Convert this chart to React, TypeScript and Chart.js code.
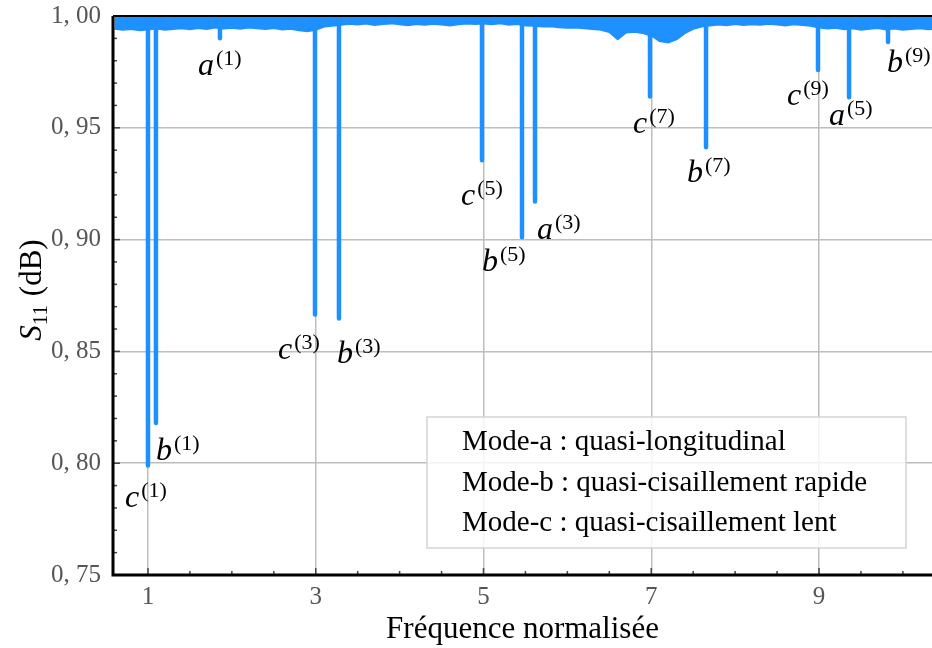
import React, { useEffect, useRef } from 'react';
import { Chart, registerables } from 'chart.js';

Chart.register(...registerables);

const SERIF = '"Liberation Serif", "Times New Roman", serif';
const BLUE = '#1E90FF';

// Background (off-resonance) S11 level, sampled along the normalized frequency
const baseFreq = [
  0.6, 0.7, 0.8, 0.9, 1.0, 1.1, 1.2, 1.3, 1.4, 1.5,
  1.6, 1.7, 1.8, 1.9, 2.0, 2.1, 2.2, 2.3, 2.4, 2.5, 2.6, 2.7, 2.8, 2.9,
  3.0, 3.1, 3.2,
  3.3, 3.4, 3.5, 3.6, 3.7, 3.8, 3.9, 4.0, 4.1, 4.2, 4.3, 4.4, 4.5, 4.6, 4.7, 4.8, 4.9,
  5.0, 5.1, 5.2, 5.3, 5.4, 5.5,
  5.6, 5.7, 5.8, 5.9, 6.0, 6.1, 6.2, 6.3, 6.4,
  6.5, 6.6, 6.7, 6.8, 6.9, 7.0, 7.1, 7.2, 7.3, 7.4, 7.5, 7.6,
  7.7, 7.8, 7.9, 8.0, 8.1, 8.2, 8.3, 8.4, 8.5, 8.6, 8.7, 8.8, 8.9,
  9.0, 9.1, 9.2, 9.3, 9.4, 9.5, 9.6, 9.7, 9.8, 9.9, 10.0, 10.1, 10.2, 10.3, 10.4,
];
const baseS11 = [
  0.9943, 0.9938, 0.9942, 0.9936, 0.9940, 0.9944, 0.9939, 0.9942, 0.9945, 0.9941,
  0.9946, 0.9942, 0.9948, 0.9944, 0.9947, 0.9943, 0.9949, 0.9945, 0.9942, 0.9946, 0.9940, 0.9943, 0.9936, 0.9932,
  0.9938, 0.9953, 0.9956,
  0.9961, 0.9965, 0.9962, 0.9966, 0.9960, 0.9964, 0.9967, 0.9963, 0.9959, 0.9964, 0.9961, 0.9965, 0.9962, 0.9958, 0.9963, 0.9966, 0.9964,
  0.9966, 0.9963, 0.9967, 0.9961, 0.9964, 0.9958,
  0.9956, 0.9953, 0.9954, 0.9950, 0.9948, 0.9949, 0.9945, 0.9942, 0.9938,
  0.9928, 0.9896, 0.9926, 0.9930, 0.9924, 0.9913, 0.9888, 0.9882, 0.9896, 0.9923, 0.9943, 0.9953,
  0.9958, 0.9962, 0.9959, 0.9964, 0.9960, 0.9963, 0.9961, 0.9965, 0.9962, 0.9958, 0.9963, 0.9960, 0.9956,
  0.9948, 0.9944, 0.9947, 0.9941, 0.9945, 0.9939, 0.9943, 0.9946, 0.9940, 0.9944, 0.9938, 0.9942, 0.9945, 0.9941, 0.9943,
];

// Resonance dips
const dipFreq = [1.0, 1.095, 1.858, 2.991, 3.277, 4.982, 5.459, 5.614, 6.985, 7.653, 8.988, 9.358, 9.823];
const dipS11 = [0.799, 0.818, 0.990, 0.8665, 0.8647, 0.9355, 0.901, 0.917, 0.964, 0.9413, 0.9758, 0.9637, 0.9884];
const dipMode = ['c', 'b', 'a', 'c', 'b', 'c', 'b', 'a', 'c', 'b', 'c', 'a', 'b'];
const dipOrder = ['1', '1', '1', '3', '3', '5', '5', '3', '7', '7', '9', '5', '9'];

// Label placement (pixel offsets from the dip bottom)
const labelOffset: [number, number][] = [
  [-23, 42], [0, 37], [-22, 37], [-37, 44], [-2, 44], [-21, 45], [-40, 34],
  [2, 37], [-17, 37], [-19, 35], [-31, 35], [-20, 28], [-1, 30],
];

const xTicks = [1, 3, 5, 7, 9];
const yTicks = [0.75, 0.8, 0.85, 0.9, 0.95, 1.0];
const legendItems = [
  'Mode-a : quasi-longitudinal',
  'Mode-b : quasi-cisaillement rapide',
  'Mode-c : quasi-cisaillement lent',
];

const overlay = {
  id: 'overlay',
  afterDatasetsDraw(chart: any) {
    const { ctx, chartArea: ca, scales } = chart;
    const xs = scales.x;
    const ys = scales.y;
    ctx.save();

    // dip labels
    ctx.fillStyle = '#000';
    ctx.textBaseline = 'alphabetic';
    ctx.textAlign = 'left';
    for (let i = 0; i < dipFreq.length; i++) {
      const px = xs.getPixelForValue(dipFreq[i]) + labelOffset[i][0];
      const py = ys.getPixelForValue(dipS11[i]) + labelOffset[i][1];
      ctx.font = `italic 32px ${SERIF}`;
      ctx.fillText(dipMode[i], px, py);
      const w = ctx.measureText(dipMode[i]).width;
      ctx.font = `22px ${SERIF}`;
      ctx.fillText(`(${dipOrder[i]})`, px + w + 2, py - 10);
    }

    // legend box
    const lx = 427, ly = 417, lw = 479, lh = 131;
    ctx.fillStyle = 'rgba(255,255,255,0.82)';
    ctx.fillRect(lx, ly, lw, lh);
    ctx.strokeStyle = '#d4d4d4';
    ctx.lineWidth = 1.5;
    ctx.strokeRect(lx, ly, lw, lh);
    ctx.fillStyle = '#000';
    ctx.font = `29px ${SERIF}`;
    legendItems.forEach((t, i) => {
      ctx.fillText(t, 462, 450 + i * 40.5);
    });

    // tick marks (inward)
    ctx.strokeStyle = '#444';
    ctx.lineWidth = 1.5;
    for (let k = 0; k <= 25; k++) {
      const v = 0.75 + k * 0.01;
      const py = ys.getPixelForValue(v);
      const len = k % 5 === 0 ? 7 : 4;
      ctx.beginPath();
      ctx.moveTo(ca.left, py);
      ctx.lineTo(ca.left + len, py);
      ctx.stroke();
    }
    for (let k = 2; k <= 20; k++) {
      const v = k * 0.5;
      if (v < xs.min || v > xs.max) continue;
      const px = xs.getPixelForValue(v);
      const len = xTicks.includes(v) ? 7 : 4;
      ctx.beginPath();
      ctx.moveTo(px, ca.bottom);
      ctx.lineTo(px, ca.bottom - len);
      ctx.stroke();
    }

    // frame
    ctx.strokeStyle = '#000';
    ctx.lineWidth = 3;
    ctx.beginPath();
    ctx.moveTo(ca.left, ca.top);
    ctx.lineTo(ca.left, ca.bottom);
    ctx.lineTo(ca.right, ca.bottom);
    ctx.stroke();
    ctx.lineWidth = 2;
    ctx.beginPath();
    ctx.moveTo(ca.left, ca.top);
    ctx.lineTo(ca.right, ca.top);
    ctx.stroke();

    // y axis title: S11 (dB)
    ctx.translate(41, 290);
    ctx.rotate(-Math.PI / 2);
    const fMain = `31px ${SERIF}`;
    const fIt = `italic 31px ${SERIF}`;
    const fSub = `21px ${SERIF}`;
    ctx.font = fIt;
    const wS = ctx.measureText('S').width;
    ctx.font = fSub;
    const wSub = ctx.measureText('11').width;
    ctx.font = fMain;
    const wRest = ctx.measureText(' (dB)').width;
    let x0 = -(wS + wSub + wRest + 1) / 2;
    ctx.fillStyle = '#000';
    ctx.font = fIt;
    ctx.fillText('S', x0, 0);
    x0 += wS;
    ctx.font = fSub;
    ctx.fillText('11', x0, 6);
    x0 += wSub + 1;
    ctx.font = fMain;
    ctx.fillText(' (dB)', x0, 0);

    ctx.restore();
  },
};

export default function App() {
  const ref = useRef<HTMLCanvasElement>(null);

  useEffect(() => {
    if (!ref.current) return;
    const baseline = baseFreq.map((f, i) => ({ x: f, y: baseS11[i] }));
    const dips: { x: number; y: number | null }[] = [];
    dipFreq.forEach((f, i) => {
      dips.push({ x: f, y: 1.0 });
      dips.push({ x: f, y: dipS11[i] });
      dips.push({ x: f, y: null });
    });

    const chart = new Chart(ref.current, {
      type: 'line',
      data: {
        datasets: [
          {
            data: dips as any,
            borderColor: BLUE,
            borderWidth: 4.5,
            borderCapStyle: 'round',
            pointRadius: 0,
            spanGaps: false,
            fill: false,
            clip: 0,
          } as any,
          {
            data: baseline,
            borderColor: BLUE,
            backgroundColor: BLUE,
            borderWidth: 2,
            pointRadius: 0,
            tension: 0,
            fill: 'end',
            clip: 0,
          } as any,
        ],
      },
      options: {
        animation: false,
        responsive: false,
        layout: { padding: { top: 16, right: 0, left: 0, bottom: 0 } },
        plugins: { legend: { display: false }, tooltip: { enabled: false } },
        scales: {
          x: {
            type: 'linear',
            min: 0.583,
            max: 10.347,
            afterBuildTicks: (s: any) => {
              s.ticks = xTicks.map((v) => ({ value: v }));
            },
            afterFit: (s: any) => {
              s.height = 73;
              s.paddingLeft = 0;
              s.paddingRight = 0;
            },
            grid: { color: '#bdbdbd', lineWidth: 1.5, drawTicks: false },
            border: { display: false },
            ticks: {
              color: '#555',
              font: { family: SERIF, size: 25 },
              padding: 7,
              maxRotation: 0,
              autoSkip: false,
              callback: (v: any) => String(v),
            },
            title: {
              display: true,
              text: 'Fréquence normalisée',
              color: '#000',
              font: { family: SERIF, size: 31 },
              padding: { top: 0, bottom: 0 },
            },
          },
          y: {
            type: 'linear',
            min: 0.75,
            max: 1.0,
            afterBuildTicks: (s: any) => {
              s.ticks = yTicks.map((v) => ({ value: v }));
            },
            afterFit: (s: any) => {
              s.width = 113;
              s.paddingTop = 0;
              s.paddingBottom = 0;
            },
            grid: { color: '#bdbdbd', lineWidth: 1.5, drawTicks: false },
            border: { display: false },
            ticks: {
              color: '#555',
              font: { family: SERIF, size: 25 },
              padding: 12,
              callback: (v: any) => Number(v).toFixed(2).replace('.', ', '),
            },
          },
        },
      },
      plugins: [overlay],
    } as any);
    return () => chart.destroy();
  }, []);

  return (
    <div style={{ position: 'absolute', left: 0, top: 0, width: 932, height: 648, background: '#fff' }}>
      <canvas ref={ref} width={932} height={648} style={{ display: 'block', width: 932, height: 648 }} />
    </div>
  );
}
